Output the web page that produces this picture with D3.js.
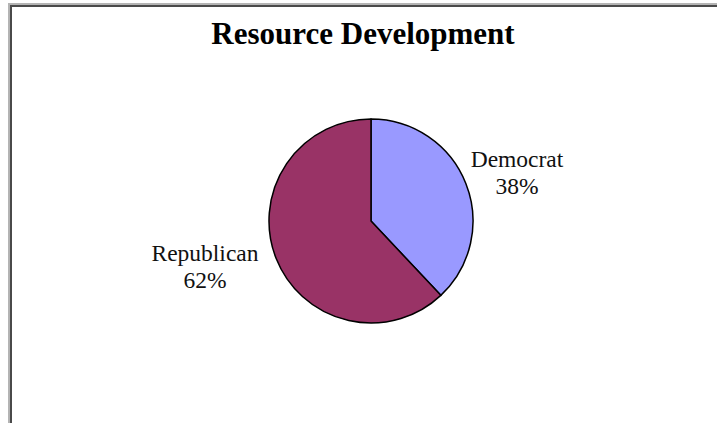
<!DOCTYPE html>
<html>
<head>
<meta charset="utf-8">
<script src="https://cdn.jsdelivr.net/npm/d3@7"></script>
<style>
  html, body { margin: 0; padding: 0; background: #fff; }
  svg { display: block; }
</style>
</head>
<body>
<svg id="chart" width="717" height="423"></svg>
<script>
// Party share of sponsorship
const categories = ["Democrat", "Republican"];
const shares = [38, 62];
const colors = ["#9999ff", "#993366"];
const title = "Resource Development";

const svg = d3.select("#chart");
const W = 717, H = 423;

// Frame: light outer edge with a darker inner edge, top and left
svg.append("rect").attr("x", 8).attr("y", 3).attr("width", W - 8).attr("height", 2).attr("fill", "#b4b4b4");
svg.append("rect").attr("x", 10).attr("y", 5).attr("width", W - 10).attr("height", 2).attr("fill", "#4a4a4a");
svg.append("rect").attr("x", 8).attr("y", 3).attr("width", 2).attr("height", H - 3).attr("fill", "#b4b4b4");
svg.append("rect").attr("x", 10).attr("y", 5).attr("width", 2).attr("height", H - 5).attr("fill", "#4a4a4a");

// Title
svg.append("text")
  .attr("x", 363).attr("y", 44)
  .attr("text-anchor", "middle")
  .attr("font-family", "'Liberation Serif', 'Times New Roman', serif")
  .attr("font-weight", "bold")
  .attr("font-size", 31)
  .attr("fill", "#000")
  .text(title);

// Pie
const cx = 371, cy = 221, r = 102;
const data = categories.map((c, i) => ({ name: c, value: shares[i], color: colors[i] }));
const pie = d3.pie().value(d => d.value).sort(null);
const arc = d3.arc().innerRadius(0).outerRadius(r);
const arcs = pie(data);

const g = svg.append("g").attr("transform", `translate(${cx},${cy})`);
g.selectAll("path")
  .data(arcs)
  .join("path")
  .attr("d", arc)
  .attr("fill", d => d.data.color)
  .attr("stroke", "#000")
  .attr("stroke-width", 1.5)
  .attr("stroke-linejoin", "round");

// Labels: name with percentage beneath, placed outside each slice
const labelPos = { Democrat: [517, 167], Republican: [205, 261] };
const lab = svg.append("g")
  .attr("font-family", "'Liberation Serif', 'Times New Roman', serif")
  .attr("font-size", 23.5)
  .attr("fill", "#111")
  .attr("text-anchor", "middle");
arcs.forEach(a => {
  const [x, y] = labelPos[a.data.name];
  const t = lab.append("text").attr("x", x).attr("y", y);
  t.append("tspan").attr("x", x).text(a.data.name);
  t.append("tspan").attr("x", x).attr("dy", 27).text(a.data.value + "%");
});
</script>
</body>
</html>
